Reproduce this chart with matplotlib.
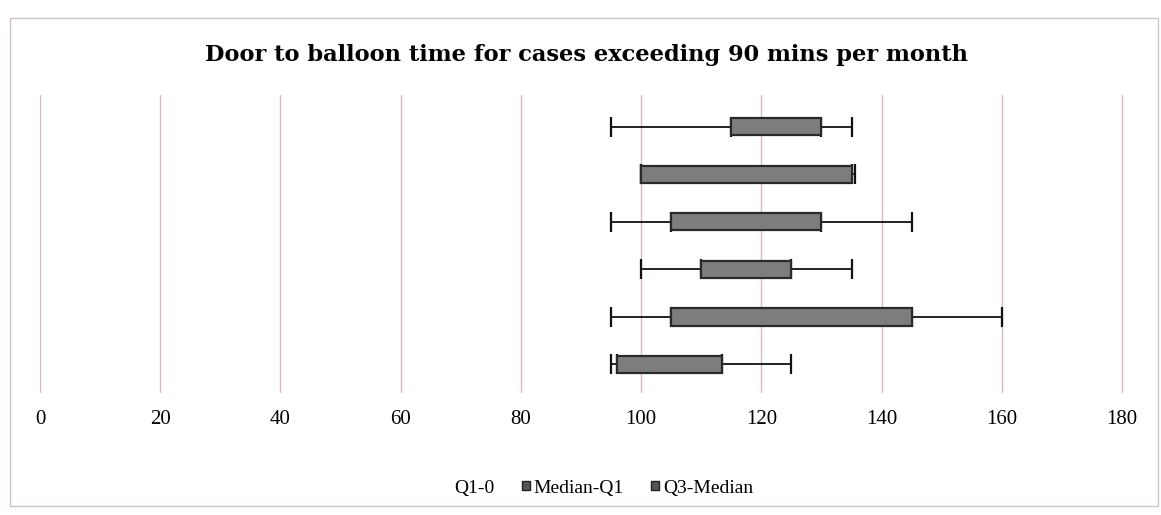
import matplotlib
matplotlib.use("Agg")
import matplotlib.pyplot as plt
from matplotlib.patches import Rectangle
import numpy as np

# ---- data (medians are not visible, estimated) ----
months = ["M1", "M2", "M3", "M4", "M5", "M6"]
min_vals = [95, 100, 95, 100, 95, 95]
q1_vals = [115, 100, 105, 110, 105, 96]
median_vals = [122, 118, 118, 117, 125, 105]
q3_vals = [130, 135, 130, 125, 145, 113.5]
max_vals = [135, 135.5, 145, 135, 160, 125]
xticks = [0, 20, 40, 60, 80, 100, 120, 140, 160, 180]
title = "Door to balloon time for cases exceeding 90 mins per month"

q1 = np.array(q1_vals, float)
med = np.array(median_vals, float)
q3 = np.array(q3_vals, float)
mn = np.array(min_vals, float)
mx = np.array(max_vals, float)

fig = plt.figure(figsize=(11.61, 5.15), dpi=100)
fig.patch.set_facecolor("white")
ppu = 1082 / 180.0
ax = fig.add_axes([40 / 1161, 1 - 393 / 515, (1082 + 2 * ppu) / 1161, 298 / 515])

y = np.arange(len(months))
h = 0.36
fill = "#7d7d7d"
edge = "#2a2a2a"

# whiskers (below boxes)
ax.errorbar(q1, y, xerr=[q1 - mn, np.zeros_like(q1)], fmt="none",
            ecolor="#111111", elinewidth=1.3, capsize=7, capthick=1.6, zorder=2)
ax.errorbar(q3, y, xerr=[np.zeros_like(q3), mx - q3], fmt="none",
            ecolor="#111111", elinewidth=1.3, capsize=7, capthick=1.6, zorder=2)

b0 = ax.barh(y, q1, height=h, color="none", edgecolor="none", label="Q1-0", zorder=3)
b1 = ax.barh(y, med - q1, left=q1, height=h, color=fill, edgecolor="none",
             label="Median-Q1", zorder=3)
b2 = ax.barh(y, q3 - med, left=med, height=h, color=fill, edgecolor="none",
             label="Q3-Median", zorder=3)
# outline of the box
ax.barh(y, q3 - q1, left=q1, height=h, fill=False, edgecolor=edge, linewidth=1.6, zorder=4)

ax.set_xlim(0, 182)
ax.set_ylim(5.6, -0.67)
ax.set_xticks(xticks)
ax.set_xticklabels([str(t) for t in xticks], fontfamily="Liberation Serif", fontsize=15)
ax.tick_params(axis="x", length=0, pad=12)
ax.set_yticks([])
ax.grid(axis="x", color="#d9b9c5", linewidth=1.0, zorder=0)
ax.set_axisbelow(True)
for s in ax.spines.values():
    s.set_visible(False)

fig.text(0.505, 1 - 55 / 515, title, ha="center", va="center",
         fontfamily="DejaVu Serif", fontweight="bold", fontsize=16.2)

leg = fig.legend(handles=[b0, b1, b2], labels=["Q1-0", "Median-Q1", "Q3-Median"],
                 loc="center", bbox_to_anchor=(598 / 1161, 1 - 488 / 515), ncol=3,
                 frameon=False, prop={"family": "Liberation Serif", "size": 14},
                 handlelength=0.4, handleheight=0.4, handletextpad=0.2, columnspacing=1.4)
for hdl in leg.legend_handles[1:]:
    hdl.set_edgecolor("#222222")
    hdl.set_facecolor("#555555")

fig.patches.append(Rectangle((10 / 1161, 1 - 506 / 515), 1148 / 1161, 488 / 515,
                             transform=fig.transFigure, fill=False,
                             edgecolor="#cfc3c8", linewidth=1.0))

fig.savefig("out.png", dpi=100)
